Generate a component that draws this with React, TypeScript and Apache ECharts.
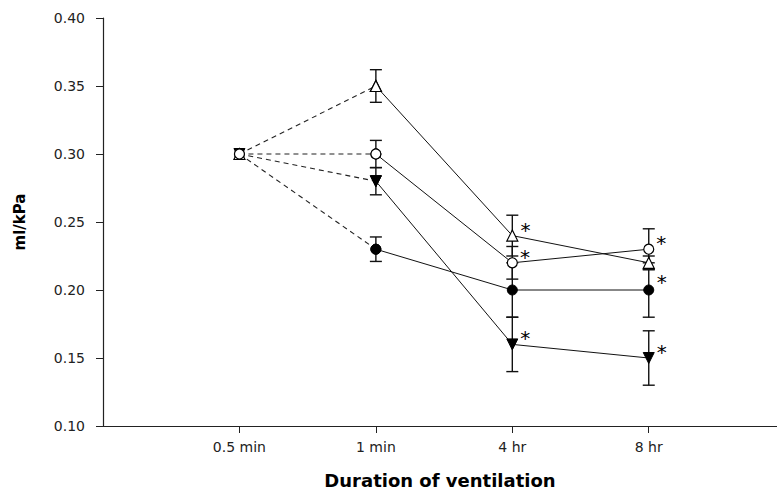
import React, { useEffect, useRef } from "react";
import * as echarts from "echarts";

const categories = ["0.5 min", "1 min", "4 hr", "8 hr"];
const xPositions = [1, 2, 3, 4];

const openTriangle = [0.3, 0.35, 0.24, 0.22];
const openTriangleErr = [0, 0.012, 0.015, 0.005];
const openTriangleStar = ["", "", "above", "below"];

const openCircle = [0.3, 0.3, 0.22, 0.23];
const openCircleErr = [0, 0.01, 0.012, 0.015];
const openCircleStar = ["", "", "above", "above"];

const filledTriangleDown = [0.3, 0.28, 0.16, 0.15];
const filledTriangleDownErr = [0, 0.01, 0.02, 0.02];
const filledTriangleDownStar = ["", "", "above", "above"];

const filledCircle = [0.3, 0.23, 0.2, 0.2];
const filledCircleErr = [0, 0.009, 0.02, 0.02];
const filledCircleStar = ["", "", "", ""];

type Group = {
  name: string;
  values: number[];
  err: number[];
  star: string[];
  symbol: string;
  rotate: number;
  filled: boolean;
};

const groups: Group[] = [
  { name: "A", values: openTriangle, err: openTriangleErr, star: openTriangleStar, symbol: "triangle", rotate: 0, filled: false },
  { name: "B", values: openCircle, err: openCircleErr, star: openCircleStar, symbol: "circle", rotate: 0, filled: false },
  { name: "C", values: filledTriangleDown, err: filledTriangleDownErr, star: filledTriangleDownStar, symbol: "triangle", rotate: 180, filled: true },
  { name: "D", values: filledCircle, err: filledCircleErr, star: filledCircleStar, symbol: "circle", rotate: 0, filled: true },
];

export default function App() {
  const ref = useRef<HTMLDivElement>(null);
  useEffect(() => {
    if (!ref.current) return;
    const chart = echarts.init(ref.current, undefined, { renderer: "svg" });

    const series: any[] = [];
    const errData: number[][] = [];
    groups.forEach((g) => {
      g.values.forEach((v, i) => {
        if (g.err[i] > 0) errData.push([xPositions[i], v - g.err[i], v + g.err[i]]);
      });
    });
    series.push({
      type: "custom",
      z: 1,
      silent: true,
      data: errData,
      renderItem: (params: any, api: any) => {
        const x = api.value(0);
        const lo = api.coord([x, api.value(1)]);
        const hi = api.coord([x, api.value(2)]);
        const w = 6;
        const style = { stroke: "#111", lineWidth: 1.4 };
        return {
          type: "group",
          children: [
            { type: "line", shape: { x1: lo[0], y1: lo[1], x2: hi[0], y2: hi[1] }, style },
            { type: "line", shape: { x1: lo[0] - w, y1: lo[1], x2: lo[0] + w, y2: lo[1] }, style },
            { type: "line", shape: { x1: hi[0] - w, y1: hi[1], x2: hi[0] + w, y2: hi[1] }, style },
          ],
        };
      },
    });

    groups.forEach((g) => {
      const itemStyle = g.filled
        ? { color: "#000", borderColor: "#000", borderWidth: 1 }
        : { color: "#fff", borderColor: "#000", borderWidth: 1.2 };
      const symbolSize = g.symbol === "triangle" ? 11 : 10;
      series.push({
        type: "line",
        name: g.name + "-dash",
        z: g.filled ? 2 : 4,
        data: [
          [xPositions[0], g.values[0]],
          [xPositions[1], g.values[1]],
        ],
        symbol: g.symbol,
        symbolRotate: g.rotate,
        symbolSize,
        showSymbol: true,
        itemStyle,
        lineStyle: { color: "#222", width: 1.1, type: [5, 4] },
        emphasis: { disabled: true },
      });
      series.push({
        type: "line",
        name: g.name,
        z: 3,
        data: g.values.slice(1).map((v, k) => {
          const i = k + 1;
          const s = g.star[i];
          return {
            value: [xPositions[i], v],
            label: s
              ? {
                  show: true,
                  formatter: "*",
                  position: "right",
                  offset: s === "above" ? [-3, -6] : [-3, 19],
                  fontSize: 20,
                  fontFamily: "DejaVu Sans",
                  color: "#000",
                }
              : { show: false },
          };
        }),
        symbol: g.symbol,
        symbolRotate: g.rotate,
        symbolSize,
        showSymbol: true,
        itemStyle,
        lineStyle: { color: "#111", width: 1 },
        emphasis: { disabled: true },
      });
    });

    chart.setOption({
      animation: false,
      backgroundColor: "#fff",
      grid: { left: 103, right: 0, top: 18, bottom: 65, outerBoundsMode: "none", containLabel: false },
      xAxis: {
        type: "value",
        min: 0,
        max: 4.94,
        interval: 1,
        name: "Duration of ventilation",
        nameLocation: "middle",
        nameGap: 45,
        nameTextStyle: { fontFamily: "DejaVu Sans", fontWeight: "bold", fontSize: 18, color: "#000" },
        splitLine: { show: false },
        axisLine: { lineStyle: { color: "#222", width: 1.2 } },
        axisTick: { customValues: xPositions, length: 7, lineStyle: { color: "#222" } },
        axisLabel: {
          customValues: xPositions,
          formatter: (v: number) => categories[xPositions.indexOf(Math.round(v))] ?? "",
          margin: 14,
          fontFamily: "DejaVu Sans",
          fontSize: 14,
          color: "#222",
        },
      },
      yAxis: {
        type: "value",
        min: 0.1,
        max: 0.4,
        interval: 0.05,
        name: "ml/kPa",
        nameLocation: "middle",
        nameGap: 76,
        nameTextStyle: { fontFamily: "DejaVu Sans", fontWeight: "bold", fontSize: 15, color: "#000" },
        splitLine: { show: false },
        axisLine: { show: true, lineStyle: { color: "#222", width: 1.2 } },
        axisTick: { show: true, length: 7, lineStyle: { color: "#222" } },
        axisLabel: {
          formatter: (v: number) => v.toFixed(2),
          margin: 18,
          fontFamily: "DejaVu Sans",
          fontSize: 14,
          color: "#222",
          showMinLabel: true,
          showMaxLabel: true,
        },
      },
      series,
    });
    return () => chart.dispose();
  }, []);
  return (
    <div
      ref={ref}
      style={{ position: "fixed", left: 0, top: 0, width: 777, height: 491, background: "#fff" }}
    />
  );
}
